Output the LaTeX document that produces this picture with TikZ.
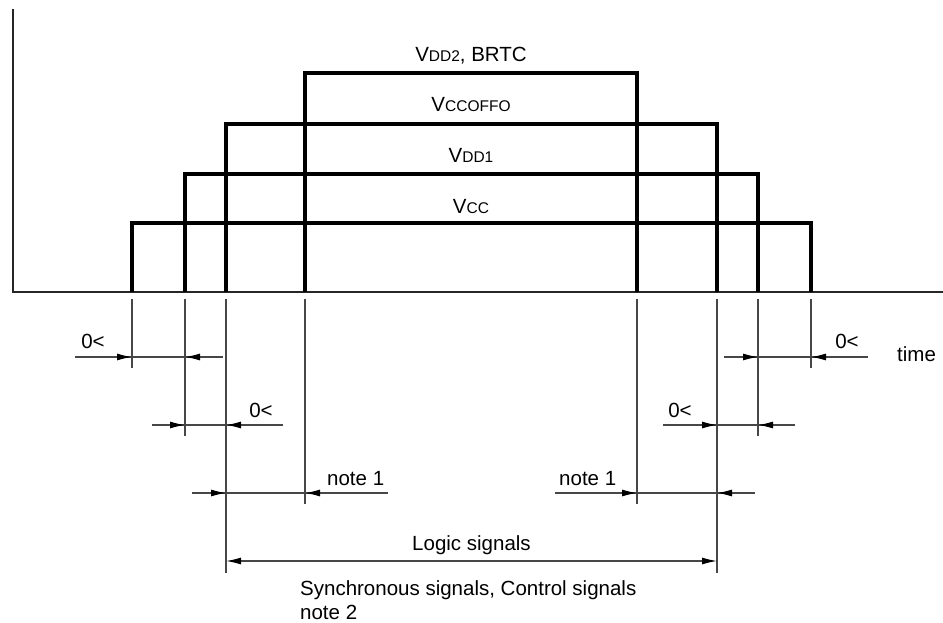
\documentclass[tikz,border=0pt]{standalone}
\usepackage{fontspec}
\setmainfont{Liberation Sans}
\usetikzlibrary{arrows.meta}
\newcommand\smcap[1]{{\fontsize{15.5}{18}\selectfont #1}}
\tikzset{dimtip/.tip={Latex[length=15pt,width=7pt,color=black]}}
\begin{document}
\begin{tikzpicture}[x=1pt,y=-1pt,
  pulse/.style={line width=3.3pt, line join=miter, black},
  axisline/.style={line width=2pt, black!85},
  dimline/.style={line width=1.2pt, black!72},
  tipline/.style={-dimtip, line width=1.2pt, black!72},
  lbl/.style={anchor=base, inner sep=0pt, font=\fontsize{20.5}{24}\selectfont},
]
\useasboundingbox (0,0) rectangle (943,623);
% edge positions on the time axis
\foreach \n/\x in {a/132,b/185,c/226,d/305,e/637,f/717,g/758,h/811}
  \coordinate (\n) at (\x,292);
\coordinate (r1) at (0,357);
\coordinate (r2) at (0,425);
\coordinate (r3) at (0,493);
\coordinate (r4) at (0,561);

% axes
\draw[axisline] (13,9) -- (13,292) -- (943,292);

% pulses
\draw[pulse] (a) -- (a |- 0,223) -- (h |- 0,223) -- (h);
\draw[pulse] (b) -- (b |- 0,174) -- (g |- 0,174) -- (g);
\draw[pulse] (c) -- (c |- 0,124) -- (f |- 0,124) -- (f);
\draw[pulse] (d) -- (d |- 0,73) -- (e |- 0,73) -- (e);

% level labels
\node[lbl] (lvdd2) at (471,62) {V\smcap{DD2}, BRTC};
\node[lbl] (lvccoffo) at (471,112) {V\smcap{CCOFFO}};
\node[lbl] (lvdd1) at (471,163) {V\smcap{DD1}};
\node[lbl] (lvcc) at (471,213) {V\smcap{CC}};

% extension lines
\draw[dimline] (a |- 0,299) -- (a |- 0,368);
\draw[dimline] (h |- 0,299) -- (h |- 0,368);
\draw[dimline] (b |- 0,299) -- (b |- 0,436);
\draw[dimline] (g |- 0,299) -- (g |- 0,436);
\draw[dimline] (d |- 0,299) -- (d |- 0,504);
\draw[dimline] (e |- 0,299) -- (e |- 0,504);
\draw[dimline] (c |- 0,299) -- (c |- 0,573);
\draw[dimline] (f |- 0,299) -- (f |- 0,573);

% row 1
\draw[dimline] (75,357) -- (223,357);
\draw[tipline] (105,357) -- (a |- r1);
\draw[tipline] (212,357) -- (b |- r1);
\draw[dimline] (724,357) -- (868,357);
\draw[tipline] (735,357) -- (g |- r1);
\draw[tipline] (840,357) -- (h |- r1);
\node[lbl] (z1) at (93,348) {0<};
\node[lbl] (z4) at (847,348) {0<};
\node[lbl, anchor=base west] (time) at (897,361) {time};

% row 2
\draw[dimline] (152,425) -- (283,425);
\draw[tipline] (160,425) -- (b |- r2);
\draw[tipline] (255,425) -- (c |- r2);
\draw[dimline] (663,425) -- (795,425);
\draw[tipline] (690,425) -- (f |- r2);
\draw[tipline] (785,425) -- (g |- r2);
\node[lbl] (z2) at (261,417) {0<};
\node[lbl] (z3) at (680,417) {0<};

% row 3
\draw[dimline] (192,493) -- (388,493);
\draw[tipline] (200,493) -- (c |- r3);
\draw[tipline] (335,493) -- (d |- r3);
\draw[dimline] (555,493) -- (755,493);
\draw[tipline] (610,493) -- (e |- r3);
\draw[tipline] (745,493) -- (f |- r3);
\node[lbl, anchor=base west] (n1l) at (327,485) {note 1};
\node[lbl, anchor=base west] (n1r) at (559,485) {note 1};

% logic signals
\draw[dimline, dimtip-dimtip] (c |- r4) -- (f |- r4);
\node[lbl] (logic) at (471.5,550) {Logic signals};
\node[lbl, anchor=base west] (sync) at (300,595) {Synchronous signals, Control signals};
\node[lbl, anchor=base west] (n2) at (300,619) {note 2};
\end{tikzpicture}
\end{document}
